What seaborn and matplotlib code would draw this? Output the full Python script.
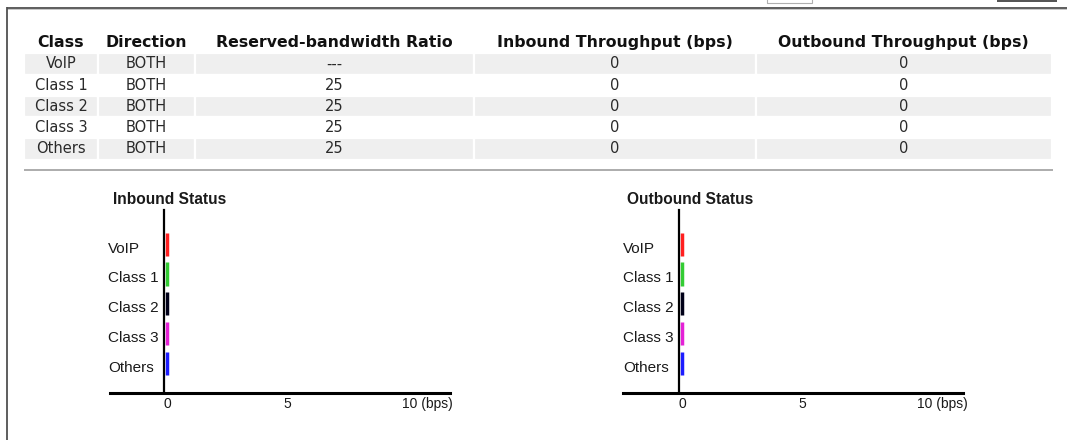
import matplotlib
matplotlib.use("Agg")
import matplotlib.pyplot as plt
import seaborn as sns
from matplotlib.lines import Line2D
from matplotlib.patches import Rectangle
from matplotlib.transforms import ScaledTranslation

# ---- data -------------------------------------------------------------
classes = ["VoIP", "Class 1", "Class 2", "Class 3", "Others"]
directions = ["BOTH", "BOTH", "BOTH", "BOTH", "BOTH"]
reserved_ratio = ["---", "25", "25", "25", "25"]
inbound_bps = [0, 0, 0, 0, 0]
outbound_bps = [0, 0, 0, 0, 0]
class_colors = ["#ff1f1f", "#33cc33", "#000018", "#e421d6", "#1c1cff"]
table_columns = ["Class", "Direction", "Reserved-bandwidth Ratio",
                 "Inbound Throughput (bps)", "Outbound Throughput (bps)"]
x_ticks = [0, 5, 10]
x_tick_labels = ["0", "5", "10 (bps)"]

# ---- figure set-up ----------------------------------------------------
W, H = 1067, 440
sns.set_theme(style="white")
plt.rcParams["font.family"] = ["DejaVu Sans"]

fig = plt.figure(figsize=(W / 100, H / 100), dpi=100)
fig.patch.set_facecolor("white")


def px_box(x0, y0, x1, y1):
    """Figure-fraction rectangle from pixel edges (origin top-left)."""
    return [x0 / W, 1 - y1 / H, (x1 - x0) / W, (y1 - y0) / H]


def hline(x0, x1, y, lw_px, color):
    fig.add_artist(Line2D([x0 / W, x1 / W], [1 - y / H, 1 - y / H],
                          lw=lw_px * 0.72, color=color, solid_capstyle="butt"))


def vline(x, y0, y1, lw_px, color):
    fig.add_artist(Line2D([x / W, x / W], [1 - y0 / H, 1 - y1 / H],
                          lw=lw_px * 0.72, color=color, solid_capstyle="butt"))


# panel frame
hline(7, W, 7.8, 1.8, "#505050")
hline(7, W, 9.4, 1.0, "#c8c8c8")
vline(7.4, 7, H, 1.8, "#505050")
# bits of the toolbar above the panel
fig.add_artist(Rectangle((767 / W, 1 - 3 / H), 45 / W, 6 / H, fill=False,
                         lw=0.8, ec="#b0b0b0", transform=fig.transFigure))
hline(997, 1057, 1.0, 2.0, "#555555")

# ---- summary table ----------------------------------------------------
col_edges = [24, 98, 195, 474, 755.5, 1052]
col_widths = [(b - a) / (col_edges[-1] - col_edges[0])
              for a, b in zip(col_edges[:-1], col_edges[1:])]
cell_text = [[c, d, r, str(i), str(o)] for c, d, r, i, o in
             zip(classes, directions, reserved_ratio, inbound_bps, outbound_bps)]

ax_tab = fig.add_axes(px_box(col_edges[0], 32, col_edges[-1], 159.5))
ax_tab.axis("off")
tab = ax_tab.table(cellText=cell_text, colLabels=table_columns,
                   colWidths=col_widths, cellLoc="center", bbox=[0, 0, 1, 1])
tab.auto_set_font_size(False)
for (r, c), cell in tab.get_celld().items():
    cell.set_edgecolor("white")
    cell.set_linewidth(1.6)
    txt = cell.get_text()
    txt.set_fontfamily("DejaVu Sans")
    if r == 0:
        cell.set_facecolor("white")
        txt.set_fontweight("bold")
        txt.set_fontsize(11.3)
        txt.set_color("#111111")
    else:
        cell.set_facecolor("#efefef" if r % 2 == 1 else "white")
        txt.set_fontsize(10.5)
        txt.set_color("#2a2a2a")

hline(24, 1053, 170, 1.6, "#9a9a9a")

# ---- status bar charts ------------------------------------------------
PX_PER_UNIT = 24.0
AX_TOP, AX_BOTTOM = 210, 393.3
ROW0, ROW_STEP = 244.3, 29.7


def status_chart(left_px, zero_px, values, title):
    right_px = left_px + 340
    ax = fig.add_axes(px_box(left_px, AX_TOP, right_px, AX_BOTTOM))
    sns.barplot(x=values, y=classes, hue=classes, palette=class_colors,
                orient="h", saturation=1, width=0.78, errorbar=None,
                legend=False, linewidth=2.5, ax=ax)
    for p in ax.patches:
        p.set_edgecolor(p.get_facecolor())
        p.set_joinstyle("miter")

    ax.set_xlim(-(zero_px - left_px) / PX_PER_UNIT,
                (right_px - zero_px) / PX_PER_UNIT)
    ax.set_ylim((AX_BOTTOM - ROW0) / ROW_STEP, -(ROW0 - AX_TOP) / ROW_STEP)
    ax.set_xlabel("")
    ax.set_ylabel("")

    for side in ("top", "right"):
        ax.spines[side].set_visible(False)
    for side in ("left", "bottom"):
        ax.spines[side].set_color("black")
        ax.spines[side].set_linewidth(1.6)
    ax.spines["bottom"].set_linewidth(2.2)
    ax.spines["left"].set_position(("data", -3.0 / PX_PER_UNIT))

    ax.set_xticks(x_ticks)
    ax.set_xticklabels(x_tick_labels, family="Liberation Sans",
                       fontsize=10, color="#1a1a1a")
    ax.tick_params(axis="x", length=0, pad=3)
    last = ax.get_xticklabels()[-1]
    last.set_ha("left")
    last.set_transform(last.get_transform() +
                       ScaledTranslation(-5 / 100, 0, fig.dpi_scale_trans))

    ax.set_yticks(range(len(classes)))
    ax.set_yticklabels(classes, family="Liberation Sans", fontsize=11,
                       color="#1a1a1a")
    ax.tick_params(axis="y", length=0, pad=40.3)
    for lbl in ax.get_yticklabels():
        lbl.set_ha("left")
        lbl.set_transform(lbl.get_transform() +
                          ScaledTranslation(0, -3 / 100, fig.dpi_scale_trans))

    fig.text((left_px + 3.3) / W, 1 - 199.5 / H, title,
             family="Liberation Sans", fontweight="bold", fontsize=11.2,
             color="#1a1a1a", ha="left", va="center")
    return ax


status_chart(110, 167.0, inbound_bps, "Inbound Status")
status_chart(623.3, 682.3, outbound_bps, "Outbound Status")

fig.savefig("out.png", dpi=100, facecolor="white")
